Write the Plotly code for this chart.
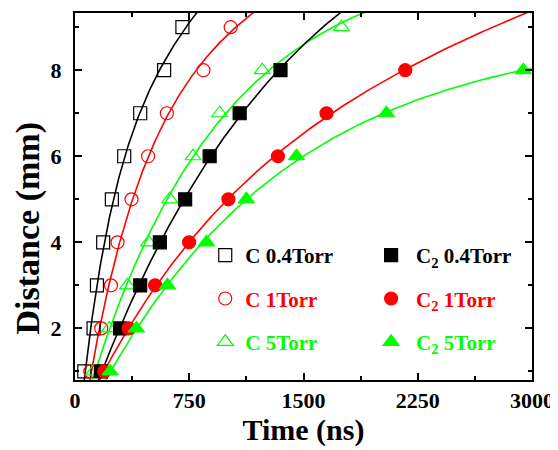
import numpy as np
import plotly.graph_objects as go

distance = [1, 2, 3, 4, 5, 6, 7, 8, 9]
distance_c2 = [1, 2, 3, 4, 5, 6, 7, 8]

t_c_04 = [61, 122, 144, 185, 242, 323, 428, 585, 705]
t_c_1 = [100, 172, 236, 279, 371, 480, 603, 843, 1022]
t_c_5 = [122, 225, 345, 483, 622, 775, 950, 1229, 1749]
t_c2_04 = [170, 296, 428, 557, 723, 884, 1081, 1349]
t_c2_1 = [192, 352, 526, 749, 1007, 1332, 1651, 2168]
t_c2_5 = [231, 403, 607, 863, 1125, 1454, 2044, 2943]

series = [
    ("C 0.4Torr", t_c_04, distance, "black", "square-open", "legend"),
    ("C 1Torr", t_c_1, distance, "#FF0000", "circle-open", "legend"),
    ("C 5Torr", t_c_5, distance, "#00FF00", "triangle-up-open", "legend"),
    ("C<sub>2</sub> 0.4Torr", t_c2_04, distance_c2, "black", "square", "legend2"),
    ("C<sub>2</sub> 1Torr", t_c2_1, distance_c2, "#FF0000", "circle", "legend2"),
    ("C<sub>2</sub> 5Torr", t_c2_5, distance_c2, "#00FF00", "triangle-up", "legend2"),
]


def drag_fit(t, d):
    """Fit d = d0 + v*t + L*(1-exp(-k t)) by scanning k and solving linear least squares."""
    t = np.asarray(t, float)
    d = np.asarray(d, float)
    best = None
    for k in np.logspace(-4, -1.5, 400):
        A = np.column_stack([np.ones_like(t), t, 1 - np.exp(-k * t)])
        coef, *_ = np.linalg.lstsq(A, d, rcond=None)
        if coef[1] < 0:
            continue
        r = np.sum((A @ coef - d) ** 2)
        if best is None or r < best[0]:
            best = (r, k, coef)
    _, k, (d0, v, L) = best
    return lambda x: d0 + v * x + L * (1 - np.exp(-k * x))


FONT = "Liberation Serif, Times New Roman, serif"
fig = go.Figure()

tt = np.linspace(0, 3000, 600)
for name, t, d, color, sym, leg in series:
    f = drag_fit(t, d)
    fig.add_trace(go.Scatter(x=tt, y=f(tt), mode="lines", line=dict(color=color, width=1.6),
                             showlegend=False, hoverinfo="skip"))

for i, (name, t, d, color, sym, leg) in enumerate(series):
    fig.add_trace(go.Scatter(
        x=t, y=d, mode="markers",
        name=f"<span style='color:{color}'>{name}</span>",
        legend=leg, legendgroup=f"g{i}",
        marker=dict(symbol=sym, size=13 if "triangle" not in sym else 14, color=color,
                    line=dict(color=color, width=1.2)),
    ))

axis_common = dict(
    showline=True, linecolor="black", linewidth=2, mirror="ticks",
    ticks="inside", ticklen=7, tickwidth=1.5, tickcolor="black",
    showgrid=False, zeroline=False, automargin=False,
    tickfont=dict(family=FONT, size=22, color="black", weight="bold"),
)

fig.update_xaxes(
    range=[0, 3000], tickvals=[0, 750, 1500, 2250, 3000],
    minor=dict(dtick=375, tick0=0, ticks="inside", ticklen=4, tickwidth=1.5, tickcolor="black"),
    title=dict(text="Time (ns)", font=dict(family=FONT, size=30, color="black", weight="bold"), standoff=0),
    **axis_common,
)
fig.update_yaxes(
    range=[0.8, 9.33], tickvals=[2, 4, 6, 8], ticklabelstandoff=7,
    minor=dict(dtick=1, tick0=0, ticks="inside", ticklen=4, tickwidth=1.5, tickcolor="black"),
    **axis_common,
)

fig.add_annotation(
    text="Distance (mm)", textangle=-90, showarrow=False,
    xref="paper", yref="paper", x=-0.102, y=0.414, xanchor="center", yanchor="middle",
    font=dict(family=FONT, size=34, color="black", weight="bold"),
)

leg_common = dict(
    font=dict(family=FONT, size=21, color="black", weight="bold"),
    bgcolor="rgba(0,0,0,0)", borderwidth=0, tracegroupgap=13,
    yanchor="top", xanchor="left",
)
# page body has an 8px default margin; the figure is sized to compensate
fig.update_layout(
    width=550, height=442,
    margin=dict(l=67, r=26, t=5, b=70),
    plot_bgcolor="white", paper_bgcolor="white",
    legend=dict(x=0.285, y=0.395, itemwidth=30, **leg_common),
    legend2=dict(x=0.637, y=0.395, itemwidth=40, **leg_common),
)

fig.write_html("out.html")
